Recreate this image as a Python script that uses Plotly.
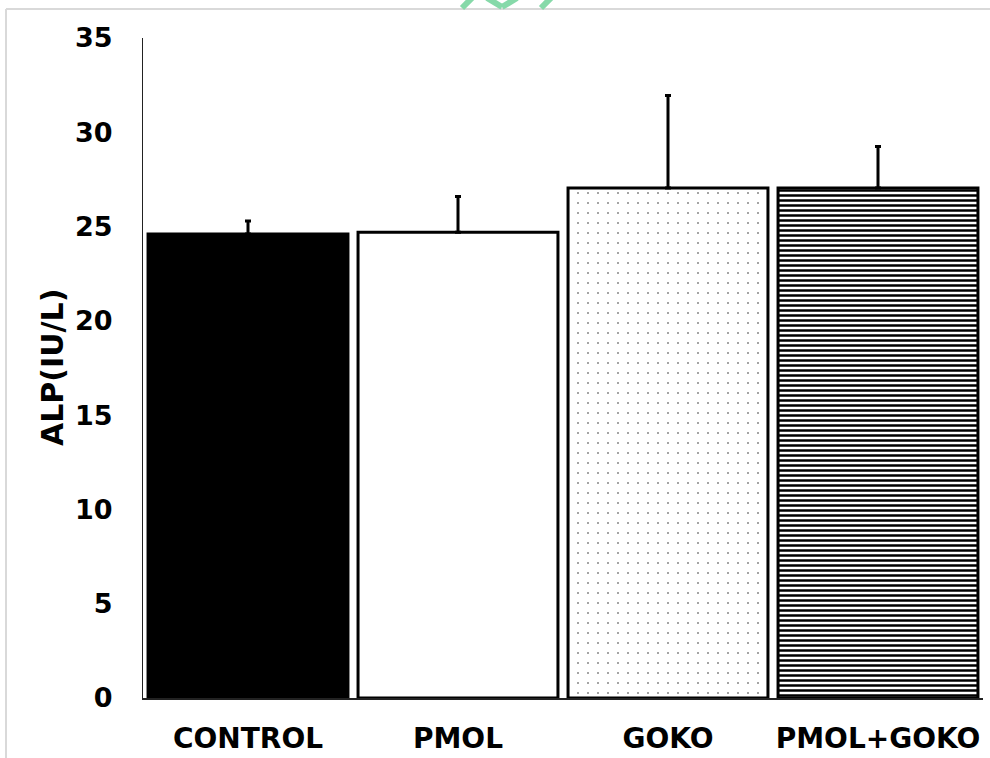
import plotly.graph_objects as go

# ---- data ----
categories = ["CONTROL", "PMOL", "GOKO", "PMOL+GOKO"]
alp_means = [24.6, 24.7, 27.05, 27.05]
alp_sd = [0.7, 1.9, 4.9, 2.2]
y_ticks = [0, 5, 10, 15, 20, 25, 30, 35]

# ---- styles ----
fills = ["black", "white", "white", "white"]
pattern_shapes = ["", "", ".", "-"]
pattern_sizes = [8, 8, 10, 5]
pattern_solid = [0.3, 0.3, 0.02, 0.5]
pattern_fg = ["black", "black", "#333333", "black"]

FONT = "DejaVu Sans"
W, H = 990, 758
L, R, T, B = 143, 7, 38, 60
pw, ph = W - L - R, H - T - B


def px2x(px):
    return (px - L) / pw


def px2y(py):
    return (H - B - py) / ph


fig = go.Figure()
for i, cat in enumerate(categories):
    marker = dict(color=fills[i], line=dict(color="black", width=3))
    if pattern_shapes[i]:
        marker["pattern"] = dict(shape=pattern_shapes[i], size=pattern_sizes[i],
                                 solidity=pattern_solid[i], fgcolor=pattern_fg[i],
                                 bgcolor="white", fillmode="replace")
    fig.add_trace(go.Bar(
        x=[cat],
        y=[alp_means[i]],
        marker=marker,
        error_y=dict(type="data", array=[alp_sd[i]], arrayminus=[0],
                     symmetric=False, color="black", thickness=3, width=3),
        showlegend=False,
        name=cat,
    ))

fig.update_layout(
    width=W, height=H,
    margin=dict(l=L, r=R, t=T, b=B, autoexpand=False),
    paper_bgcolor="white", plot_bgcolor="white",
    barmode="overlay",
    bargap=0.048,
    font=dict(family=FONT, color="black"),
)

fig.update_yaxes(
    range=[0, 35], tickvals=y_ticks, ticktext=[str(v) for v in y_ticks],
    showgrid=False, zeroline=False,
    showline=True, linecolor="#222222", linewidth=1,
    ticks="", ticklabelstandoff=24,
    tickfont=dict(family=FONT, size=27, weight="bold", color="black"),
)
fig.update_xaxes(
    categoryorder="array", categoryarray=categories,
    showgrid=False, zeroline=False,
    showline=True, linecolor="#222222", linewidth=2,
    ticks="", ticklabelstandoff=14,
    tickfont=dict(family=FONT, size=28, weight="bold", color="black"),
)

# y-axis title
fig.add_annotation(
    text="ALP(IU/L)", textangle=-90, showarrow=False,
    xref="paper", yref="paper", x=px2x(52), y=0.5,
    xanchor="center", yanchor="middle",
    font=dict(family=FONT, size=30, weight="bold", color="black"),
)

# light grey frame
frame = "#d9d9d9"
fig.add_shape(type="line", xref="paper", yref="paper",
              x0=px2x(6), x1=px2x(W + 10), y0=px2y(9), y1=px2y(9),
              line=dict(color=frame, width=2))
fig.add_shape(type="line", xref="paper", yref="paper",
              x0=px2x(6), x1=px2x(6), y0=px2y(9), y1=px2y(H + 10),
              line=dict(color=frame, width=2))

# partial green logo at the top
green = "#86d9a9"
for (xa, ya, xb, yb) in [(462, 8, 472, -2), (487, -2, 502, 7),
                         (502, 7, 517, -2), (541, 8, 551, -2)]:
    fig.add_shape(type="line", xref="paper", yref="paper",
                  x0=px2x(xa), y0=px2y(ya), x1=px2x(xb), y1=px2y(yb),
                  line=dict(color=green, width=6))

fig.write_html(
    "out.html",
    config={"displayModeBar": False},
    post_script="document.body.style.margin='0';document.body.style.overflow='hidden';",
)
